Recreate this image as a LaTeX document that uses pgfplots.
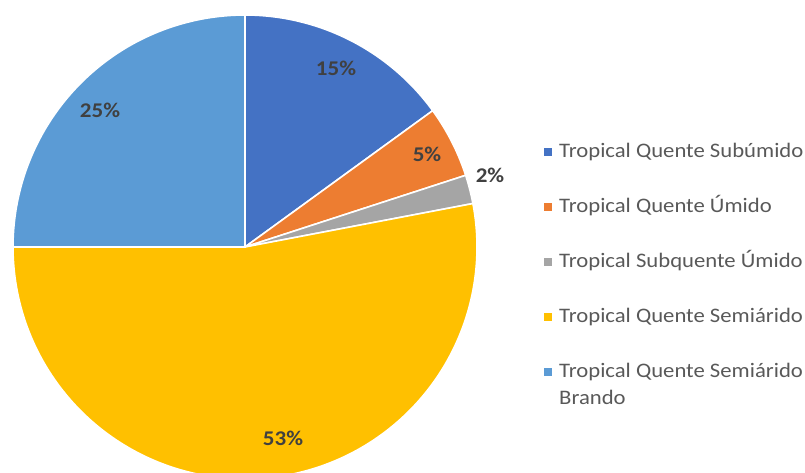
\documentclass[border=0pt]{standalone}
\usepackage{pgfplots}
\pgfplotsset{compat=1.18}
\usepackage{fontspec}
\setmainfont{Carlito}[FakeStretch=1.1]
\definecolor{cA}{HTML}{4472C4}
\definecolor{cB}{HTML}{ED7D31}
\definecolor{cC}{HTML}{A5A5A5}
\definecolor{cD}{HTML}{FFC000}
\definecolor{cE}{HTML}{5B9BD5}
\definecolor{lbl}{HTML}{404040}
\definecolor{leg}{HTML}{595959}
% data (percent)
\def\vA{15}\def\vB{5}\def\vC{2}\def\vD{53}\def\vE{25}
\pgfmathsetmacro\aA{90}
\pgfmathsetmacro\aB{\aA-3.6*\vA}
\pgfmathsetmacro\aC{\aB-3.6*\vB}
\pgfmathsetmacro\aD{\aC-3.6*\vC}
\pgfmathsetmacro\aE{\aD-3.6*\vD}
\pgfmathsetmacro\aF{\aE-3.6*\vE}
\def\cx{245}\def\cy{226}\def\R{232}
\begin{document}
\begin{tikzpicture}
\begin{axis}[
  scale only axis, width=805bp, height=473bp,
  xmin=0, xmax=805, ymin=0, ymax=473,
  axis line style={draw=none}, ticks=none,
  clip=true,
  legend style={at={(axis cs:544,332)}, anchor=north west, draw=none, fill=none,
    inner sep=0bp, row sep=34bp, column sep=7bp,
    font=\fontsize{20.7}{25}\selectfont\color{leg},
    nodes={inner sep=0bp, text height=16bp, text depth=5bp}},
  legend cell align=left,
  legend image code/.code={\fill[#1, draw=none] (0bp,-4bp) rectangle (8bp,4bp);},
]
\addplot[fill=cA, draw=white, line width=1.6bp, domain=\aB:\aA, samples=80]
  ({\cx+\R*cos(x)},{\cy+\R*sin(x)}) -- (axis cs:\cx,\cy) -- cycle;
\addlegendentry{Tropical Quente Subúmido}
\addplot[fill=cB, draw=white, line width=1.6bp, domain=\aC:\aB, samples=30]
  ({\cx+\R*cos(x)},{\cy+\R*sin(x)}) -- (axis cs:\cx,\cy) -- cycle;
\addlegendentry{Tropical Quente Úmido}
\addplot[fill=cC, draw=white, line width=1.6bp, domain=\aD:\aC, samples=20]
  ({\cx+\R*cos(x)},{\cy+\R*sin(x)}) -- (axis cs:\cx,\cy) -- cycle;
\addlegendentry{Tropical Subquente Úmido}
\addplot[fill=cD, draw=white, line width=1.6bp, domain=\aE:\aD, samples=200]
  ({\cx+\R*cos(x)},{\cy+\R*sin(x)}) -- (axis cs:\cx,\cy) -- cycle;
\addlegendentry{Tropical Quente Semiárido}
\addplot[fill=cE, draw=white, line width=1.6bp, domain=\aF:\aE, samples=100]
  ({\cx+\R*cos(x)},{\cy+\R*sin(x)}) -- (axis cs:\cx,\cy) -- cycle;
\addlegendentry{\smash{\rlap{\raisebox{-27bp}{Brando}}}Tropical Quente Semiárido}
\begin{scope}[every node/.style={font=\fontsize{21}{25}\selectfont\bfseries, text=lbl}]
\node at (axis cs:336,405) {\vA\%};
\node at (axis cs:427,319) {\vB\%};
\node at (axis cs:490,298) {\vC\%};
\node at (axis cs:283,35) {\vD\%};
\node at (axis cs:100,363) {\vE\%};
\end{scope}
\end{axis}
\end{tikzpicture}
\end{document}
